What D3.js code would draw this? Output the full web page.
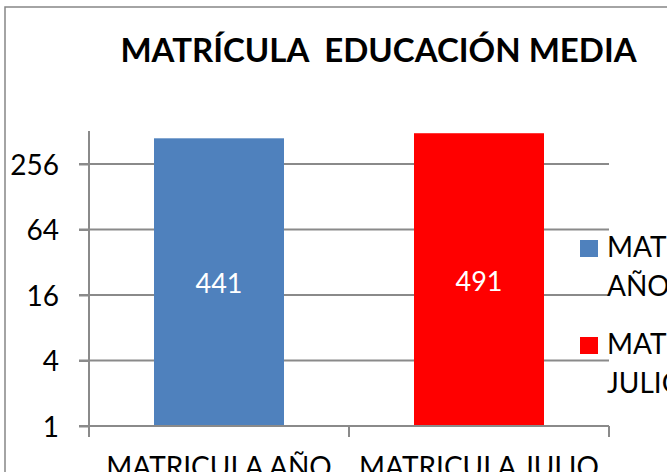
<!DOCTYPE html>
<html>
<head>
<meta charset="utf-8">
<script src="https://cdnjs.cloudflare.com/ajax/libs/d3/7.8.5/d3.min.js"></script>
<style>
  html, body { margin: 0; padding: 0; background: #fff; overflow: hidden; }
  svg { display: block; }
  text { font-family: Lato, "Open Sans", sans-serif; }
</style>
</head>
<body>
<svg id="chart" width="667" height="472"></svg>
<script>
const title = "MATRÍCULA  EDUCACIÓN MEDIA";
const categories = ["MATRICULA AÑO", "MATRICULA JULIO"];
const legendLines = [["MATRICULA", "AÑO"], ["MATRICULA", "JULIO"]];
const values = [441, 491];
const colors = ["#4F81BD", "#FF0000"];
const yTicks = [1, 4, 16, 64, 256];
const yMax = 512;

const svg = d3.select("#chart");
const W = 667, H = 472;

// chart border
svg.append("rect")
  .attr("x", 5).attr("y", 7)
  .attr("width", W + 20).attr("height", H + 20)
  .attr("fill", "#fff").attr("stroke", "#868686").attr("stroke-width", 1.5);

const x = d3.scaleBand().domain(categories).range([89, 609])
  .paddingInner(0.5).paddingOuter(0.25);
const y = d3.scaleLog().base(4).domain([1, yMax]).range([426, 131.25]);

// gridlines
svg.append("g").selectAll("line").data(yTicks.slice(1)).join("line")
  .attr("x1", 79).attr("x2", 609)
  .attr("y1", d => y(d)).attr("y2", d => y(d))
  .attr("stroke", "#8a8a8a").attr("stroke-width", 2);

// y axis
const yAxis = d3.axisLeft(y).tickValues(yTicks).tickFormat(d3.format("d"))
  .tickSize(10).tickPadding(20);
const gy = svg.append("g").attr("transform", "translate(89,0)").call(yAxis);
gy.select(".domain").attr("d", `M0,131V437`).attr("stroke", "#8a8a8a").attr("stroke-width", 2);
gy.selectAll(".tick line").attr("stroke", "#8a8a8a").attr("stroke-width", 2);
gy.selectAll(".tick text").attr("font-size", 28).attr("fill", "#000")
  .attr("font-family", "Lato, sans-serif").attr("dy", "0.36em");

// bars
svg.append("g").selectAll("rect").data(values).join("rect")
  .attr("x", (d, i) => x(categories[i]))
  .attr("width", x.bandwidth())
  .attr("y", d => y(d))
  .attr("height", d => y(1) - y(d))
  .attr("fill", (d, i) => colors[i]);

// data labels
svg.append("g").selectAll("text").data(values).join("text")
  .attr("x", (d, i) => x(categories[i]) + x.bandwidth() / 2)
  .attr("y", d => (y(d) + y(1)) / 2 + 11)
  .attr("text-anchor", "middle")
  .attr("font-size", 27).attr("fill", "#fff")
  .text(d => d);

// x axis
const xAxisScale = d3.scalePoint().domain([0, 1, 2]).range([89, 609]);
const gx = svg.append("g").attr("transform", "translate(0,426)");
gx.append("line").attr("x1", 79).attr("x2", 609).attr("y1", 0).attr("y2", 0)
  .attr("stroke", "#8a8a8a").attr("stroke-width", 2);
gx.selectAll("line.t").data([0, 1, 2]).join("line").attr("class", "t")
  .attr("x1", d => xAxisScale(d)).attr("x2", d => xAxisScale(d))
  .attr("y1", 0).attr("y2", 11)
  .attr("stroke", "#8a8a8a").attr("stroke-width", 2);
gx.selectAll("text").data(categories).join("text")
  .attr("x", d => x(d) + x.bandwidth() / 2)
  .attr("y", 51)
  .attr("text-anchor", "middle")
  .attr("font-size", 28).attr("fill", "#000")
  .text(d => d);

// title
svg.append("text")
  .attr("x", 378.5).attr("y", 62)
  .attr("text-anchor", "middle")
  .attr("font-size", 33).attr("font-weight", "bold").attr("fill", "#000")
  .style("white-space", "pre")
  .text(title);

// legend
const lg = svg.append("g");
const legendY = [240, 337];
categories.forEach((c, i) => {
  lg.append("rect").attr("x", 580).attr("y", legendY[i])
    .attr("width", 18).attr("height", 17).attr("fill", colors[i]);
  const t = lg.append("text").attr("x", 607).attr("y", legendY[i] + 17)
    .attr("font-size", 28).attr("fill", "#000");
  legendLines[i].forEach((ln, j) => {
    t.append("tspan").attr("x", 607).attr("dy", j === 0 ? 0 : 38.5).text(ln);
  });
});
</script>
</body>
</html>
